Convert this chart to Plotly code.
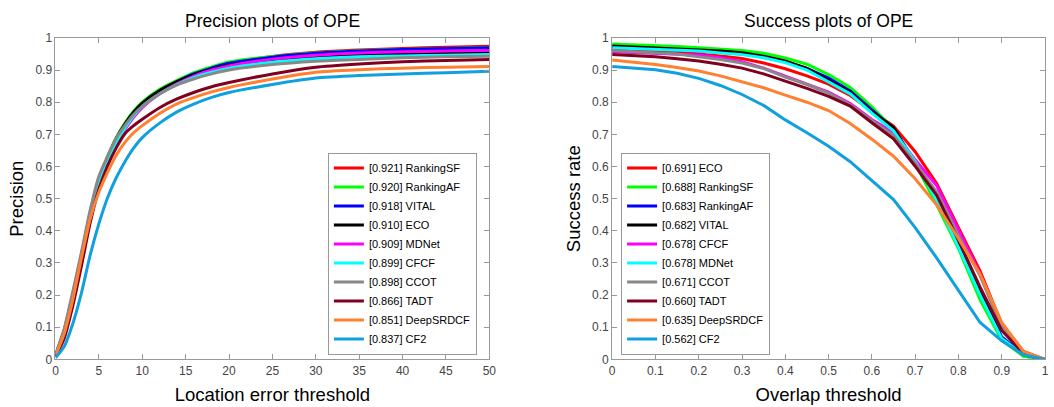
import plotly.graph_objects as go

# ---------------- Precision plot data ----------------
prec_x = [0, 1, 2, 3, 4, 5, 6, 7, 8, 9, 10, 12, 14, 16, 18, 20, 25, 30, 35, 40, 45, 50]

prec_names = ["[0.921] RankingSF", "[0.920] RankingAF", "[0.918] VITAL", "[0.910] ECO",
              "[0.909] MDNet", "[0.899] CFCF", "[0.898] CCOT", "[0.866] TADT",
              "[0.851] DeepSRDCF", "[0.837] CF2"]

prec_rankingsf = [0.012, 0.088, 0.197, 0.320, 0.450, 0.552, 0.622, 0.680, 0.725, 0.763, 0.793, 0.833, 0.862, 0.887, 0.905, 0.920, 0.942, 0.955, 0.962, 0.967, 0.971, 0.974]
prec_rankingaf = [0.012, 0.090, 0.202, 0.325, 0.455, 0.557, 0.630, 0.690, 0.735, 0.772, 0.800, 0.840, 0.868, 0.893, 0.910, 0.925, 0.942, 0.953, 0.960, 0.964, 0.967, 0.970]
prec_vital     = [0.012, 0.088, 0.197, 0.320, 0.450, 0.555, 0.625, 0.682, 0.727, 0.765, 0.795, 0.835, 0.864, 0.889, 0.906, 0.921, 0.940, 0.952, 0.959, 0.964, 0.967, 0.969]
prec_eco       = [0.012, 0.090, 0.202, 0.325, 0.455, 0.558, 0.628, 0.687, 0.732, 0.769, 0.797, 0.836, 0.864, 0.886, 0.902, 0.915, 0.932, 0.941, 0.947, 0.950, 0.952, 0.954]
prec_mdnet     = [0.012, 0.085, 0.192, 0.315, 0.445, 0.547, 0.610, 0.665, 0.715, 0.753, 0.783, 0.826, 0.857, 0.882, 0.900, 0.913, 0.934, 0.946, 0.953, 0.957, 0.959, 0.961]
prec_cfcf      = [0.012, 0.088, 0.197, 0.320, 0.450, 0.552, 0.620, 0.675, 0.720, 0.758, 0.787, 0.826, 0.855, 0.877, 0.893, 0.906, 0.924, 0.935, 0.941, 0.944, 0.946, 0.948]
prec_ccot      = [0.015, 0.095, 0.212, 0.335, 0.465, 0.570, 0.632, 0.688, 0.728, 0.762, 0.787, 0.826, 0.854, 0.873, 0.888, 0.900, 0.917, 0.927, 0.933, 0.938, 0.941, 0.943]
prec_tadt      = [0.008, 0.065, 0.167, 0.292, 0.425, 0.530, 0.602, 0.658, 0.702, 0.727, 0.747, 0.783, 0.810, 0.831, 0.848, 0.861, 0.888, 0.909, 0.919, 0.926, 0.930, 0.933]
prec_deepsrdcf = [0.012, 0.080, 0.187, 0.317, 0.438, 0.520, 0.582, 0.635, 0.675, 0.705, 0.727, 0.765, 0.795, 0.815, 0.832, 0.846, 0.872, 0.893, 0.901, 0.906, 0.909, 0.911]
prec_cf2       = [0.005, 0.040, 0.112, 0.208, 0.325, 0.422, 0.503, 0.565, 0.615, 0.657, 0.690, 0.735, 0.770, 0.795, 0.815, 0.830, 0.855, 0.875, 0.883, 0.888, 0.892, 0.896]

prec_series = [prec_rankingsf, prec_rankingaf, prec_vital, prec_eco, prec_mdnet,
               prec_cfcf, prec_ccot, prec_tadt, prec_deepsrdcf, prec_cf2]

# ---------------- Success plot data ----------------
succ_x = [0.0, 0.05, 0.1, 0.15, 0.2, 0.25, 0.3, 0.35, 0.4, 0.45, 0.5,
          0.55, 0.6, 0.65, 0.7, 0.75, 0.8, 0.85, 0.9, 0.95, 1.0]

succ_names = ["[0.691] ECO", "[0.688] RankingSF", "[0.683] RankingAF", "[0.682] VITAL",
              "[0.678] CFCF", "[0.678] MDNet", "[0.671] CCOT", "[0.660] TADT",
              "[0.635] DeepSRDCF", "[0.562] CF2"]

succ_eco       = [0.965, 0.963, 0.960, 0.956, 0.951, 0.944, 0.936, 0.922, 0.904, 0.882, 0.856, 0.821, 0.772, 0.726, 0.646, 0.546, 0.410, 0.275, 0.110, 0.025, 0.0]
succ_rankingsf = [0.981, 0.979, 0.976, 0.973, 0.969, 0.965, 0.961, 0.952, 0.938, 0.918, 0.886, 0.846, 0.786, 0.716, 0.610, 0.480, 0.345, 0.185, 0.060, 0.010, 0.0]
succ_rankingaf = [0.972, 0.970, 0.967, 0.963, 0.960, 0.955, 0.950, 0.940, 0.925, 0.905, 0.875, 0.835, 0.776, 0.718, 0.615, 0.505, 0.360, 0.210, 0.070, 0.015, 0.0]
succ_vital     = [0.975, 0.972, 0.969, 0.966, 0.964, 0.959, 0.954, 0.943, 0.928, 0.905, 0.868, 0.831, 0.771, 0.721, 0.606, 0.505, 0.360, 0.215, 0.065, 0.015, 0.0]
succ_cfcf      = [0.957, 0.955, 0.953, 0.950, 0.947, 0.938, 0.926, 0.906, 0.881, 0.858, 0.831, 0.796, 0.746, 0.706, 0.621, 0.540, 0.400, 0.265, 0.105, 0.020, 0.0]
succ_mdnet     = [0.969, 0.967, 0.965, 0.962, 0.959, 0.953, 0.948, 0.938, 0.923, 0.900, 0.862, 0.826, 0.766, 0.711, 0.616, 0.495, 0.350, 0.200, 0.065, 0.015, 0.0]
succ_ccot      = [0.961, 0.958, 0.955, 0.950, 0.941, 0.933, 0.922, 0.905, 0.878, 0.855, 0.828, 0.792, 0.743, 0.697, 0.611, 0.520, 0.385, 0.260, 0.100, 0.020, 0.0]
succ_tadt      = [0.948, 0.945, 0.941, 0.935, 0.928, 0.918, 0.906, 0.888, 0.866, 0.843, 0.818, 0.788, 0.736, 0.686, 0.601, 0.510, 0.370, 0.225, 0.090, 0.018, 0.0]
succ_deepsrdcf = [0.931, 0.925, 0.917, 0.908, 0.897, 0.882, 0.864, 0.845, 0.822, 0.800, 0.774, 0.734, 0.685, 0.632, 0.562, 0.480, 0.376, 0.265, 0.115, 0.025, 0.0]
succ_cf2       = [0.911, 0.907, 0.901, 0.890, 0.874, 0.852, 0.824, 0.790, 0.745, 0.705, 0.663, 0.615, 0.556, 0.497, 0.410, 0.315, 0.215, 0.115, 0.058, 0.015, 0.0]

succ_series = [succ_eco, succ_rankingsf, succ_rankingaf, succ_vital, succ_cfcf,
               succ_mdnet, succ_ccot, succ_tadt, succ_deepsrdcf, succ_cf2]

# colours by rank (same for both plots)
rank_colors = ["#ff0000", "#00ff00", "#0000ff", "#000000", "#ff00ff",
               "#00ffff", "#888888", "#800020", "#ff8030", "#10a0e0"]

W, H = 1054, 407
FONT = "Liberation Sans, Arial, sans-serif"

fig = go.Figure()

for name, ys, col in zip(prec_names, prec_series, rank_colors):
    fig.add_trace(go.Scatter(x=prec_x, y=ys, name=name, mode="lines",
                             line=dict(color=col, width=3, shape="spline", smoothing=0.6),
                             xaxis="x", yaxis="y", legend="legend"))

for name, ys, col in zip(succ_names, succ_series, rank_colors):
    fig.add_trace(go.Scatter(x=succ_x, y=ys, name=name, mode="lines",
                             line=dict(color=col, width=3),
                             xaxis="x2", yaxis="y2", legend="legend2"))

ydom = [1 - 365 / H, 1 - 32 / H]
axis_common = dict(showline=True, linecolor="#999999", linewidth=1, mirror="ticks",
                   ticks="inside", ticklen=5, tickcolor="#999999", showgrid=False,
                   zeroline=False, tickfont=dict(family=FONT, size=12, color="#444444"),
                   title_font=dict(family=FONT, size=18.5, color="#000000"))

legend_common = dict(xanchor="left", yanchor="bottom", bordercolor="#999999",
                     borderwidth=1, bgcolor="white", tracegroupgap=0,
                     font=dict(family=FONT, size=11, color="#000000"))

fig.update_layout(
    width=W, height=H,
    margin=dict(l=0, r=0, t=0, b=0),
    paper_bgcolor="white", plot_bgcolor="white",
    font=dict(family=FONT),
    showlegend=True,
    xaxis=dict(domain=[53 / W, 491 / W], range=[0, 50], dtick=5, anchor="y",
               title=dict(text="Location error threshold", standoff=11), **axis_common),
    yaxis=dict(domain=ydom, range=[0, 1], dtick=0.1, anchor="x",
               title=dict(text="Precision", standoff=6), **axis_common),
    xaxis2=dict(domain=[615 / W, 1052 / W], range=[0, 1], dtick=0.1, anchor="y2",
                title=dict(text="Overlap threshold", standoff=11), **axis_common),
    yaxis2=dict(domain=ydom, range=[0, 1], dtick=0.1, anchor="x2",
                title=dict(text="Success rate", standoff=6), **axis_common),
    legend=dict(x=328 / W, y=1 - 360 / H, **legend_common),
    legend2=dict(x=624 / W, y=1 - 360 / H, **legend_common),
    annotations=[
        dict(text="Precision plots of OPE", x=(53 + 491) / 2 / W, y=1 - 15 / H,
             xref="paper", yref="paper", xanchor="center", yanchor="middle",
             showarrow=False, font=dict(family=FONT, size=17.5, color="#000000")),
        dict(text="Success plots of OPE", x=(615 + 1052) / 2 / W, y=1 - 15 / H,
             xref="paper", yref="paper", xanchor="center", yanchor="middle",
             showarrow=False, font=dict(family=FONT, size=17.5, color="#000000")),
    ],
)

fig.write_html("out.html")
